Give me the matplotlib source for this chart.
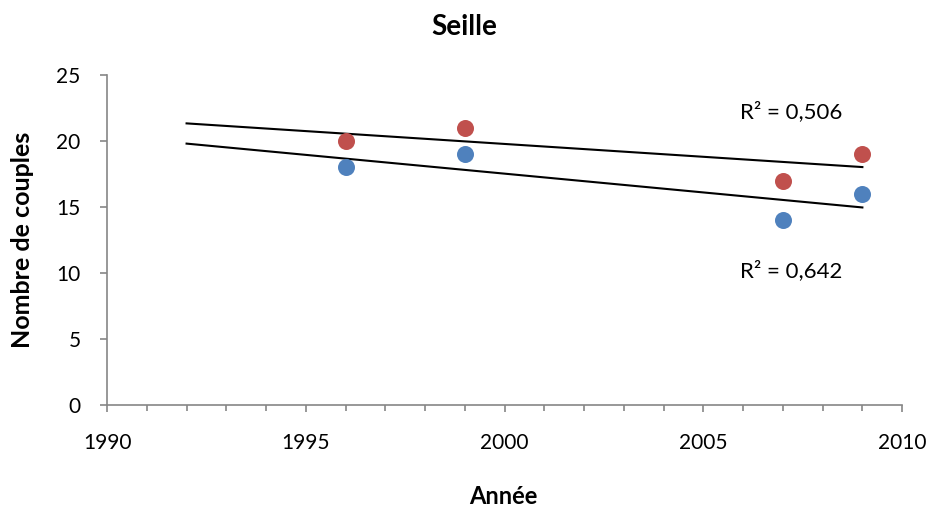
import numpy as np
import matplotlib.pyplot as plt
from matplotlib.ticker import MultipleLocator

plt.rcParams['font.family'] = ['Lato', 'DejaVu Sans']

years = [1996, 1999, 2007, 2009]
serie_rouge = [20, 21, 17, 19]
serie_bleue = [18, 19, 14, 16]
r2_labels = ['R² = 0,506', 'R² = 0,642']

rouge = '#C0504D'
bleu = '#4F81BD'
gris = '#868686'

fig = plt.figure(figsize=(9.31, 5.08), dpi=100)
ax = fig.add_axes([0.115, 0.203, 0.854, 0.649])

ax.scatter(years, serie_bleue, s=150, color=bleu, zorder=3, linewidths=0)
ax.scatter(years, serie_rouge, s=150, color=rouge, zorder=3, linewidths=0)

# courbes de tendance linéaires, prolongées de 4 ans vers l'arrière
xt = np.array([1992, years[-1]])
for serie in (serie_rouge, serie_bleue):
    a, b = np.polyfit(years, serie, 1)
    ax.plot(xt, a * xt + b, color='black', lw=1.5, zorder=2)

ax.text(2007.2, 22.2, r2_labels[0], ha='center', va='center', fontsize=16)
ax.text(2007.2, 10.2, r2_labels[1], ha='center', va='center', fontsize=16)

ax.set_xlim(1990, 2010)
ax.set_ylim(0, 25)
ax.xaxis.set_major_locator(MultipleLocator(5))
ax.xaxis.set_minor_locator(MultipleLocator(1))
ax.yaxis.set_major_locator(MultipleLocator(5))

for s in ('top', 'right'):
    ax.spines[s].set_visible(False)
for s in ('left', 'bottom'):
    ax.spines[s].set_color(gris)
    ax.spines[s].set_linewidth(1.2)

ax.tick_params(axis='both', which='major', direction='out', length=5,
               color=gris, width=1.2, labelsize=15)
ax.tick_params(axis='x', which='major', pad=15)
ax.tick_params(axis='y', which='major', pad=14)
ax.tick_params(axis='x', which='minor', direction='out', length=4,
               color=gris, width=1.2)

fig.text(0.499, 0.947, 'Seille', ha='center', va='center',
         fontsize=20, fontweight='bold')
fig.text(0.541, 0.022, 'Année', ha='center', va='center',
         fontsize=17, fontweight='bold')
fig.text(0.024, 0.528, 'Nombre de couples', ha='center', va='center',
         rotation=90, fontsize=18, fontweight='bold')

fig.savefig('out.png', dpi=100)
